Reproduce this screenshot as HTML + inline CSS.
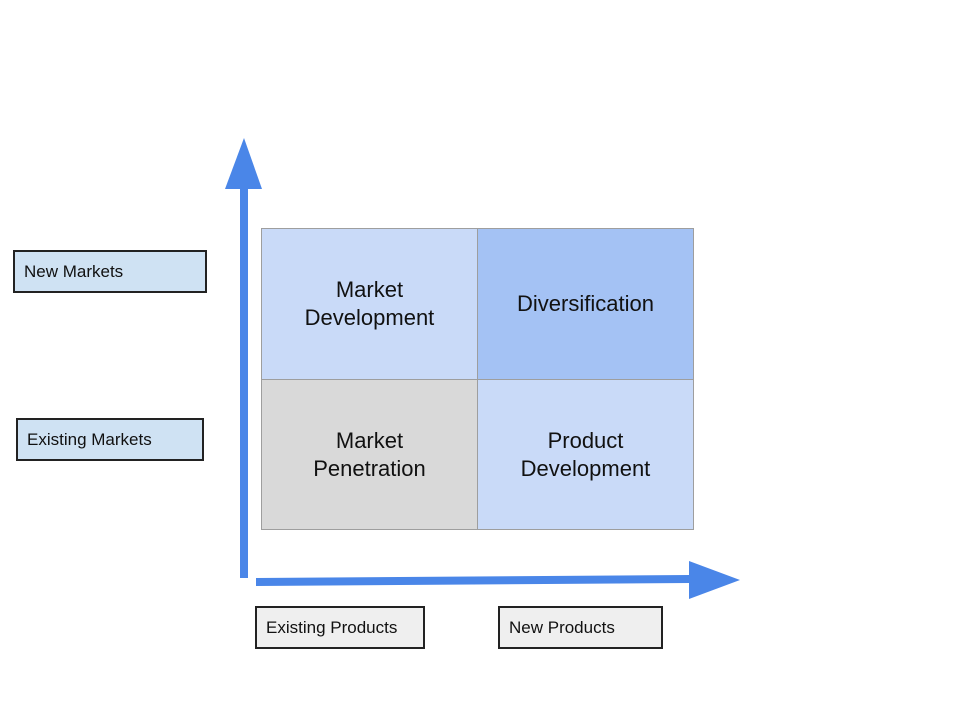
<!DOCTYPE html>
<html><head><style>
body{margin:0;width:960px;height:720px;background:#fff;position:relative;font-family:"Liberation Sans",sans-serif;overflow:hidden}
.b{position:absolute;box-sizing:border-box;border:2px solid #222;font-size:17px;color:#111;padding-left:9px;display:flex;align-items:center}
.c{position:absolute;box-sizing:border-box;border:1px solid #9e9e9e;display:flex;align-items:center;justify-content:center;text-align:center;font-size:22px;color:#111;line-height:28px}
</style></head><body>
<div class="c" style="left:261px;top:228px;width:217px;height:152px;background:#c9daf8">Market<br>Development</div>
<div class="c" style="left:477px;top:228px;width:217px;height:152px;background:#a4c2f4">Diversification</div>
<div class="c" style="left:261px;top:379px;width:217px;height:151px;background:#d9d9d9">Market<br>Penetration</div>
<div class="c" style="left:477px;top:379px;width:217px;height:151px;background:#c9daf8">Product<br>Development</div>
<div class="b" style="left:13px;top:250px;width:194px;height:43px;background:#cfe2f3">New Markets</div>
<div class="b" style="left:16px;top:418px;width:188px;height:43px;background:#cfe2f3">Existing Markets</div>
<div class="b" style="left:255px;top:606px;width:170px;height:43px;background:#efefef">Existing Products</div>
<div class="b" style="left:498px;top:606px;width:165px;height:43px;background:#efefef">New Products</div>
<svg width="960" height="720" style="position:absolute;left:0;top:0">
<polygon points="240,188 248,188 248,578 240,578" fill="#4a86e8"/>
<polygon points="225,189 262,189 244,138" fill="#4a86e8"/>
<polygon points="256,578 690,575 690,583 256,586" fill="#4a86e8"/>
<polygon points="689,561 689,599 740,580" fill="#4a86e8"/>
</svg>
</body></html>
